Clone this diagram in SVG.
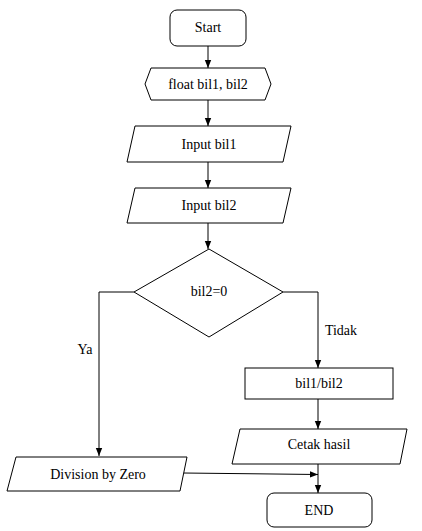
<svg xmlns="http://www.w3.org/2000/svg" width="422" height="531" viewBox="0 0 422 531">
<defs>
<marker id="ah" markerUnits="userSpaceOnUse" markerWidth="8" markerHeight="8" refX="8" refY="4" orient="auto">
<path d="M0,0.8 L8,4 L0,7.2 Z" fill="#000"/>
</marker>
<style>
.s{fill:#fff;stroke:#000;stroke-width:1}
text{font-family:'Liberation Serif','Times New Roman',serif;font-size:14px;fill:#000;text-anchor:middle}
.c{fill:none;stroke:#000;stroke-width:1;marker-end:url(#ah)}
</style>
</defs>
<rect width="422" height="531" fill="#fff"/>
<g id="connectors">
<path class="c" d="M208,46 V68"/>
<path class="c" d="M208,100 V126"/>
<path class="c" d="M208,162 V188"/>
<path class="c" d="M208,223 V249"/>
<path class="c" d="M134,292 L99,292 V456"/>
<path class="c" d="M283,292 L318,292 V368"/>
<path class="c" d="M318,399 V429"/>
<path class="c" d="M183,473 L318,474.5"/>
<path class="c" d="M318,464 V493"/>
<text x="85" y="354">Ya</text>
<text x="341" y="335">Tidak</text>
</g>
<g id="start">
<rect class="s" x="170" y="10" width="76" height="36" rx="7"/>
<text x="208" y="32">Start</text>
</g>
<g id="decl">
<path class="s" d="M145,84 L151,68 L265,68 L271,84 L265,100 L151,100 Z"/>
<text x="208" y="89">float bil1, bil2</text>
</g>
<g id="input1">
<path class="s" d="M135,126 L291,126 L283,162 L127,162 Z"/>
<text x="209" y="149">Input bil1</text>
</g>
<g id="input2">
<path class="s" d="M135,188 L291,188 L283,223 L127,223 Z"/>
<text x="209" y="210">Input bil2</text>
</g>
<g id="decision">
<path class="s" d="M209,249 L283,292 L209,337 L134,292 Z"/>
<text x="209" y="296">bil2=0</text>
</g>
<g id="divide">
<rect class="s" x="245" y="368" width="148" height="31"/>
<text x="319" y="388">bil1/bil2</text>
</g>
<g id="print">
<path class="s" d="M240,429 L407,429 L400,464 L232,464 Z"/>
<text x="319" y="449">Cetak hasil</text>
</g>
<g id="divzero">
<path class="s" d="M16,457 L187,457 L180,491 L7,491 Z"/>
<text x="98" y="479">Division by Zero</text>
</g>
<g id="end">
<rect class="s" x="267" y="493" width="105" height="34" rx="7"/>
<text x="319" y="515">END</text>
</g>
</svg>
